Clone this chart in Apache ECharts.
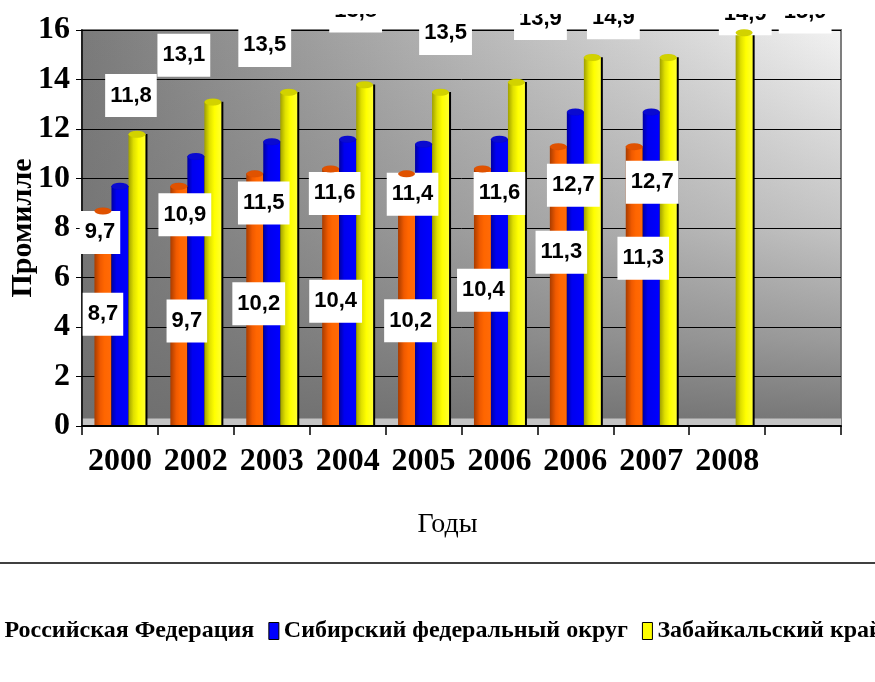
<!DOCTYPE html>
<html>
<head>
<meta charset="utf-8">
<script src="https://cdn.jsdelivr.net/npm/echarts@6/dist/echarts.min.js"></script>
<style>
  html, body { margin: 0; padding: 0; background: #fff; }
  #chart { width: 875px; height: 682px; }
</style>
</head>
<body>
<div id="chart"></div>
<script>
// годы (последняя категория пустая, как в оригинале)
var categories = ['2000', '2002', '2003', '2004', '2005', '2006', '2006', '2007', '2008', ''];
var seriesNames = ['Российская Федерация', 'Сибирский федеральный округ', 'Забайкальский край'];
var rfValues = [8.7, 9.7, 10.2, 10.4, 10.2, 10.4, 11.3, 11.3, null, null];
var sfoValues = [9.7, 10.9, 11.5, 11.6, 11.4, 11.6, 12.7, 12.7, null, null];
var zabValues = [11.8, 13.1, 13.5, 13.8, 13.5, 13.9, 14.9, 14.9, 15.9, null];
var yTicks = [0, 2, 4, 6, 8, 10, 12, 14, 16];

var chart = echarts.init(document.getElementById('chart'));

function grad(stops) {
  return new echarts.graphic.LinearGradient(0, 0, 1, 0, stops.map(function (s) {
    return { offset: s[0], color: s[1] };
  }));
}

var labelBase = {
  show: true,
  color: '#000',
  backgroundColor: '#fff',
  fontFamily: 'Liberation Sans',
  fontWeight: 'bold',
  fontSize: 22,
  lineHeight: 21,
  padding: [11, 5],
  formatter: function (p) { return String(p.value).replace('.', ','); }
};

// сдвиги подписей (подписи в оригинале переставлены вручную)
var rfShift = [[0, -4], [8, 15], [4, 4], [5, 4], [4, 21], [1, -7], [3, -34], [9, -28]];
var sfoShift = [[-20, 20], [-11, 32], [-8, 35], [-13, 28], [-11, 24], [0, 28], [-2, 47], [1, 44]];
var zabShift = [[-6, -12], [-29, -20], [-24, -20], [-9, -47], [5, -32], [24, -37], [21, -13], [77, -17], [61, 6]];

function withLabels(values, shifts, pos) {
  return values.map(function (v, i) {
    if (v == null) return '-';
    var s = shifts[i] || [0, 0];
    return { value: v, label: { position: pos, offset: s } };
  });
}

var bodies = [
  grad([[0, '#a83c00'], [0.35, '#f05a00'], [0.6, '#ff6600'], [1, '#ff6a08']]),
  grad([[0, '#0000a0'], [0.3, '#0000f0'], [1, '#0000ff']]),
  grad([[0, '#a0a000'], [0.3, '#e0e000'], [0.6, '#ffff00'], [1, '#ffff30']])
];
var caps = ['#e05200', '#0a0ad0', '#d2d200'];
var legendColors = ['#ff6600', '#0000ff', '#ffff00'];
var valueSets = [rfValues, sfoValues, zabValues];
var dataSets = [
  withLabels(rfValues, rfShift, 'inside'),
  withLabels(sfoValues, sfoShift, 'insideTop'),
  withLabels(zabValues, zabShift, 'top')
];

var series = [];
for (var k = 0; k < 3; k++) {
  var s = {
    name: seriesNames[k],
    type: 'bar',
    barWidth: 17,
    barGap: '0%',
    data: dataSets[k],
    itemStyle: {
      color: bodies[k],
      shadowColor: '#000',
      shadowOffsetX: 2,
      shadowOffsetY: 0,
      shadowBlur: 0
    },
    label: labelBase
  };
  if (k === 0) {
    // задняя стенка темнеет книзу + пол
    s.markArea = {
      silent: true,
      data: [
        [{ yAxis: 0, itemStyle: { color: new echarts.graphic.LinearGradient(0, 0, 0, 1, [
            { offset: 0, color: 'rgba(110,110,110,0)' },
            { offset: 0.5, color: 'rgba(110,110,110,0.35)' },
            { offset: 0.78, color: 'rgba(110,110,110,0.65)' },
            { offset: 1, color: 'rgba(110,110,110,0.95)' }
          ]) } }, { yAxis: 16 }],
        [{ yAxis: 0, itemStyle: { color: '#c4c4c4' } }, { yAxis: 0.3 }]
      ]
    };
  }
  series.push(s);
}
for (var c = 0; c < 3; c++) {
  series.push({
    name: seriesNames[c],
    type: 'pictorialBar',
    barWidth: 17,
    barGap: '0%',
    symbol: 'circle',
    symbolSize: [17, 7],
    symbolPosition: 'end',
    symbolOffset: [0, '-50%'],
    z: 3,
    data: valueSets[c].map(function (v) { return v == null ? '-' : v; }),
    itemStyle: { color: caps[c], borderColor: 'rgba(0,0,0,0.75)', borderWidth: 1 }
  });
}

var option = {
  animation: false,
  backgroundColor: '#fff',
  grid: {
    left: 82, right: 34, top: 30, bottom: 256,
    outerBoundsMode: 'none',
    containLabel: false,
    show: true,
    borderColor: '#7f7f7f',
    borderWidth: 2,
    backgroundColor: new echarts.graphic.LinearGradient(0, 0, 1, 0, [
      { offset: 0, color: '#7a7a7a' },
      { offset: 1, color: '#f2f2f2' }
    ])
  },
  xAxis: {
    type: 'category',
    data: categories,
    z: 4,
    name: 'Годы',
    nameLocation: 'middle',
    nameGap: 85,
    nameTextStyle: { fontFamily: 'Liberation Serif', fontSize: 28, color: '#000', padding: [0, 28, 0, 0] },
    axisLine: { lineStyle: { color: '#000', width: 2 } },
    axisTick: { show: true, interval: 0, length: 9, lineStyle: { color: '#000', width: 1.5 } },
    axisLabel: {
      interval: 0,
      margin: 20,
      fontFamily: 'Liberation Serif',
      fontWeight: 'bold',
      fontSize: 32,
      color: '#000'
    }
  },
  yAxis: {
    type: 'value',
    min: yTicks[0],
    max: yTicks[yTicks.length - 1],
    interval: yTicks[1] - yTicks[0],
    z: 1.5,
    name: 'Промилле',
    nameLocation: 'middle',
    nameRotate: 90,
    nameGap: 44,
    nameMoveOverlap: false,
    nameTextStyle: { fontFamily: 'Liberation Serif', fontWeight: 'bold', fontSize: 30, color: '#000' },
    axisLine: { show: true, lineStyle: { color: '#000', width: 1.5 } },
    axisTick: { show: true, length: 6, lineStyle: { color: '#000' } },
    axisLabel: {
      margin: 12,
      fontFamily: 'Liberation Serif',
      fontWeight: 'bold',
      fontSize: 32,
      color: '#000'
    },
    splitLine: { show: true, lineStyle: { color: '#000', width: 1 } }
  },
  legend: {
    left: -16,
    top: 614,
    width: 1000,
    icon: 'rect',
    itemWidth: 10,
    itemHeight: 17,
    itemGap: 14,
    selectedMode: false,
    textStyle: { fontFamily: 'Liberation Serif', fontWeight: 'bold', fontSize: 24, color: '#000' },
    data: seriesNames.map(function (n, i) {
      return { name: n, itemStyle: { color: legendColors[i], borderColor: '#000', borderWidth: 1 } };
    })
  },
  graphic: [{
    type: 'line',
    shape: { x1: 0, y1: 563, x2: 875, y2: 563 },
    style: { stroke: '#000', lineWidth: 1.5 }
  }, {
    // верх исходной картинки обрезан
    type: 'rect',
    z: 100,
    shape: { x: 0, y: 0, width: 875, height: 14 },
    style: { fill: '#fff' }
  }],
  series: series
};

chart.setOption(option);
</script>
</body>
</html>
